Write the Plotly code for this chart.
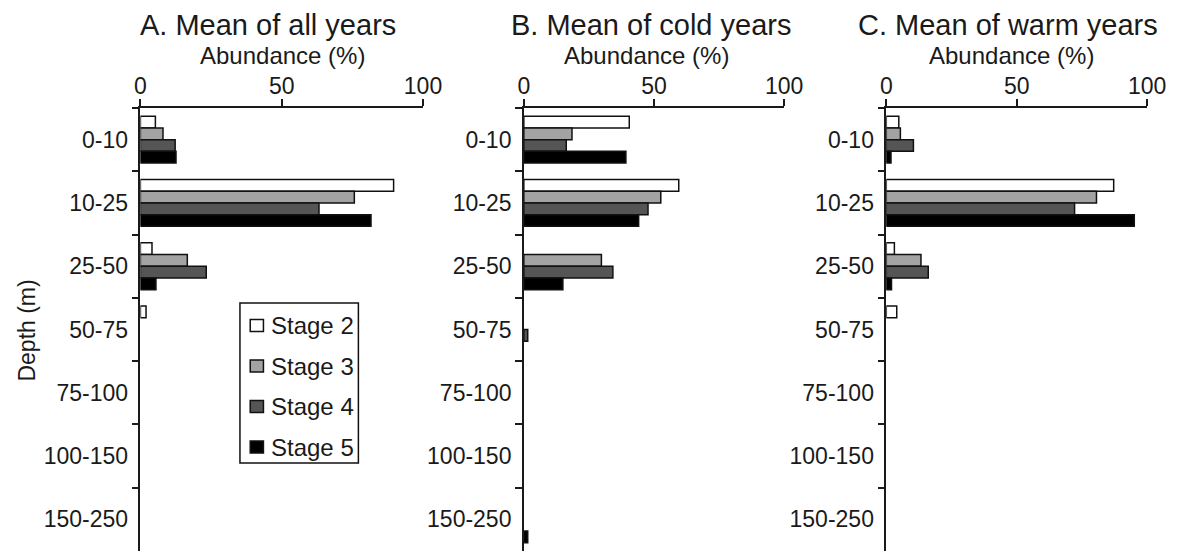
import plotly.graph_objects as go

# Depth classes (m), top to bottom
depths = ["0-10", "10-25", "25-50", "50-75", "75-100", "100-150", "150-250"]
stages = ["Stage 2", "Stage 3", "Stage 4", "Stage 5"]

# Mean abundance (%) per stage and depth class
all_years = {
    "Stage 2": [5.3, 89.6, 4.1, 2.0, 0, 0, 0],
    "Stage 3": [8.0, 75.7, 16.6, 0, 0, 0, 0],
    "Stage 4": [12.3, 63.2, 23.3, 0, 0, 0, 0],
    "Stage 5": [12.6, 81.6, 5.5, 0, 0, 0, 0],
}
cold_years = {
    "Stage 2": [40.5, 59.5, 0, 0, 0, 0, 0],
    "Stage 3": [18.5, 52.6, 29.8, 0, 0, 0, 0],
    "Stage 4": [16.3, 47.7, 34.2, 1.5, 0, 0, 0],
    "Stage 5": [39.2, 44.1, 15.0, 0, 0, 0, 1.5],
}
warm_years = {
    "Stage 2": [4.8, 87.2, 3.1, 4.0, 0, 0, 0],
    "Stage 3": [5.4, 80.6, 13.3, 0, 0, 0, 0],
    "Stage 4": [10.4, 72.2, 16.1, 0, 0, 0, 0],
    "Stage 5": [1.8, 95.1, 2.0, 0, 0, 0, 0],
}

panel_titles = ["A. Mean of all years", "B. Mean of cold years", "C. Mean of warm years"]
x_ticks = [0, 50, 100]

stage_colors = {"Stage 2": "#ffffff", "Stage 3": "#a3a3a3", "Stage 4": "#555555", "Stage 5": "#000000"}

W, H = 1183, 551
FONT = "Liberation Sans, Arial, sans-serif"
INK = "#1a1a1a"
EDGE = "#111111"

# Pixel placement of each panel (left, right) and the top of the plotting area
panel_px = [(137.3, 426.0), (529.0, 795.0), (899.3, 1165.7)]
title_cx = [267.5, 659.0, 1024.0]
subtitle_cx = [282.5, 654.0, 1027.5]
top_px = 108.0


def px_x(v):
    return v / W


def px_y(v):
    return 1 - v / H


fig = go.Figure()
datasets = [all_years, cold_years, warm_years]

for i, data in enumerate(datasets):
    xa = "x" if i == 0 else f"x{i + 1}"
    ya = "y" if i == 0 else f"y{i + 1}"
    for s in stages:
        vals = data[s]
        # empty classes get no outline so nothing is stroked along the axis
        edge_w = [1.5 if v > 0 else 0 for v in vals]
        fig.add_trace(go.Bar(
            x=vals, y=depths, orientation="h", name=s,
            xaxis=xa, yaxis=ya,
            marker=dict(color=stage_colors[s], line=dict(color=EDGE, width=edge_w)),
            showlegend=False,
        ))

layout = dict(
    width=W, height=H,
    margin=dict(l=0, r=0, t=0, b=0),
    paper_bgcolor="white", plot_bgcolor="white",
    barmode="group", bargap=0.26, bargroupgap=0,
    font=dict(family=FONT, size=23, color=INK),
    showlegend=False,
)

ydom = [0, 1 - top_px / H]
for i, (l, r) in enumerate(panel_px):
    suffix = "" if i == 0 else str(i + 1)
    layout["xaxis" + suffix] = dict(
        domain=[l / W, r / W], range=[0, 100], side="top",
        tickmode="array", tickvals=x_ticks, ticktext=[str(v) for v in x_ticks],
        ticks="outside", ticklen=7, tickwidth=1.5, tickcolor=INK,
        ticklabelstandoff=-4,
        showline=True, linecolor=INK, linewidth=1.5,
        showgrid=False, zeroline=False, fixedrange=True,
        anchor="y" + suffix, tickfont=dict(size=23),
    )
    layout["yaxis" + suffix] = dict(
        domain=ydom, type="category", categoryorder="array", categoryarray=depths,
        autorange="reversed", tickson="boundaries",
        ticks="outside", ticklen=7, tickwidth=1.5, tickcolor=INK,
        ticklabelstandoff=6,
        showline=True, linecolor=INK, linewidth=1.5,
        showgrid=False, zeroline=False, fixedrange=True,
        anchor="x" + suffix, tickfont=dict(size=23),
    )

annotations = []
for i in range(3):
    annotations.append(dict(
        text=panel_titles[i], x=px_x(title_cx[i]), y=px_y(25),
        xref="paper", yref="paper", xanchor="center", yanchor="middle",
        showarrow=False, font=dict(size=29, family=FONT, color=INK),
    ))
    annotations.append(dict(
        text="Abundance (%)", x=px_x(subtitle_cx[i]), y=px_y(56),
        xref="paper", yref="paper", xanchor="center", yanchor="middle",
        showarrow=False, font=dict(size=24, family=FONT, color=INK),
    ))
annotations.append(dict(
    text="Depth (m)", x=px_x(21), y=px_y(331), textangle=-90,
    xref="paper", yref="paper", xanchor="center", yanchor="middle",
    showarrow=False, font=dict(size=23, family=FONT, color=INK),
))

# Stage key: framed box with a swatch and label per stage
shapes = [dict(
    type="rect", xref="paper", yref="paper",
    x0=px_x(239), x1=px_x(360), y0=px_y(463), y1=px_y(303),
    line=dict(color=EDGE, width=1.5), fillcolor="white", layer="above",
)]
for k, s in enumerate(stages):
    cy = 325.5 + 40.5 * k
    shapes.append(dict(
        type="rect", xref="paper", yref="paper",
        x0=px_x(249.5), x1=px_x(263), y0=px_y(cy + 6), y1=px_y(cy - 6),
        line=dict(color=EDGE, width=1.5), fillcolor=stage_colors[s], layer="above",
    ))
    annotations.append(dict(
        text=s, x=px_x(269), y=px_y(cy),
        xref="paper", yref="paper", xanchor="left", yanchor="middle",
        showarrow=False, font=dict(size=24, family=FONT, color=INK),
    ))

layout["annotations"] = annotations
layout["shapes"] = shapes

fig.update_layout(**layout)
fig.write_html("out.html")
